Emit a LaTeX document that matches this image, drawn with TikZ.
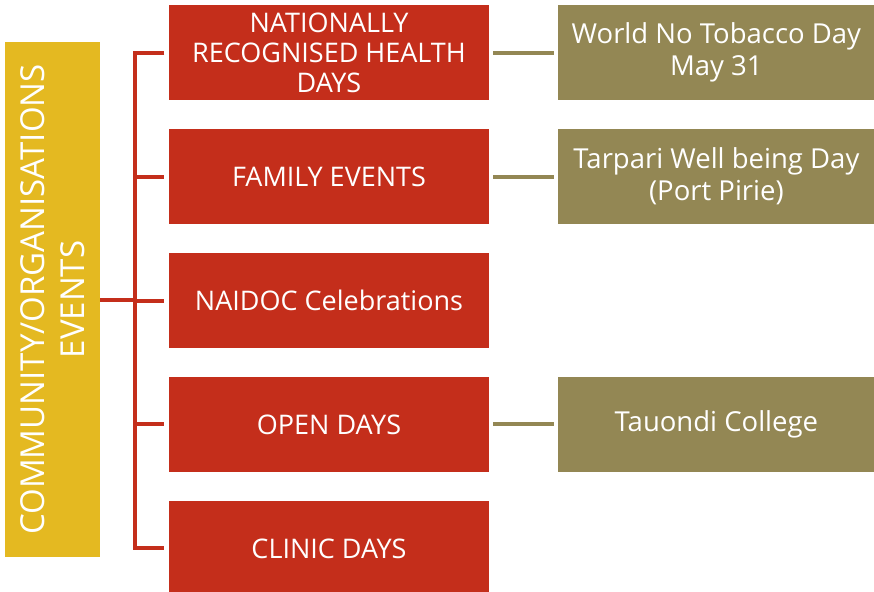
\documentclass[tikz,border=0pt]{standalone}
\usepackage{fontspec}
\setmainfont{Open Sans}
\usetikzlibrary{positioning}
\definecolor{eventred}{HTML}{C42E1B}
\definecolor{eventolive}{HTML}{938754}
\definecolor{eventgold}{HTML}{E4B921}
\tikzset{
  rootbox/.style={fill=eventgold, text=white, align=center, rotate=90, minimum width=515pt, minimum height=95pt, inner sep=2pt, font=\fontsize{33}{40}\selectfont},
  category/.style={fill=eventred, text=white, align=center, minimum width=320pt, minimum height=94.5pt, inner sep=2pt, font=\fontsize{27}{30}\selectfont},
  example/.style={fill=eventolive, text=white, align=center, minimum width=316pt, minimum height=94.5pt, inner sep=2pt, font=\fontsize{27.5}{32}\selectfont},
  branch/.style={draw=eventred, line width=4pt},
  leaf/.style={draw=eventolive, line width=4pt, shorten <=4pt, shorten >=4pt}
}

\begin{document}
\begin{tikzpicture}[x=1pt, y=-1pt, node distance=29pt]
  \useasboundingbox (0,0) rectangle (874,591);
  \node[rootbox] (root) at (52.5,299.5) {COMMUNITY/ORGANISATIONS\\EVENTS};
  \node[category] (health) at (329,52.75) {NATIONALLY\\RECOGNISED HEALTH\\DAYS};
  \node[category, below=of health] (family) {FAMILY EVENTS};
  \node[category, below=of family] (naidoc) {NAIDOC Celebrations};
  \node[category, below=of naidoc] (open) {OPEN DAYS};
  \node[category, below=of open] (clinic) {CLINIC DAYS};
  \node[example, right=69pt of health] (tobacco) {World No Tobacco Day\\May 31};
  \node[example, right=69pt of family] (tarpari) {Tarpari Well being Day\\(Port Pirie)};
  \node[example, right=69pt of open] (tauondi) {Tauondi College};
  \coordinate (trunk) at (135,299.5);

  \draw[branch] (root.south) -- (trunk);
  \draw[branch, shorten <=4.5pt, shorten >=4.5pt] (health.west) -- (trunk |- health.west) -- (trunk |- clinic.west) -- (clinic.west);
  \foreach \n in {family,naidoc,open}
    \draw[branch, shorten >=4.5pt] (trunk |- \n.west) -- (\n.west);
  \draw[leaf] (health) -- (tobacco);
  \draw[leaf] (family) -- (tarpari);
  \draw[leaf] (open) -- (tauondi);
\end{tikzpicture}
\end{document}
